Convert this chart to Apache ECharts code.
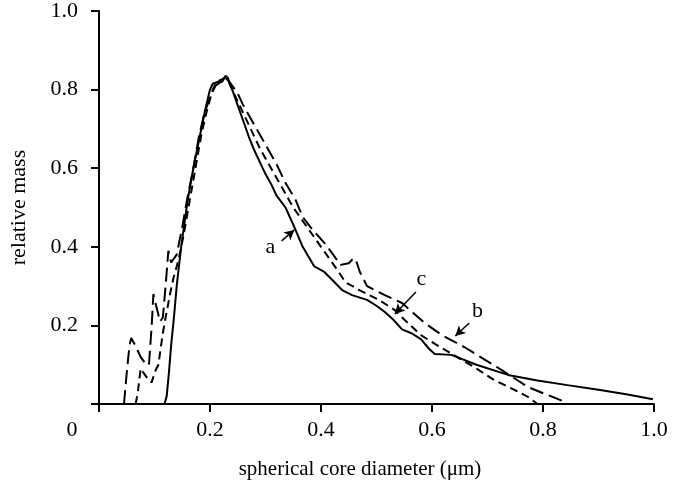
<!DOCTYPE html>
<html>
<head>
<meta charset="utf-8">
<script src="https://cdn.jsdelivr.net/npm/echarts@6/dist/echarts.min.js"></script>
<style>html,body{margin:0;padding:0;background:#fff}#c{width:673px;height:491px}</style>
</head>
<body>
<div id="c"></div>
<script>
// x ticks
const xTicks = [0, 0.2, 0.4, 0.6, 0.8, 1.0];
const yTicks = [0, 0.2, 0.4, 0.6, 0.8, 1.0];

// curve a (solid): [diameter, relative mass]
const curveA = [
  [0.118,0],[0.122,0.02],[0.126,0.08],[0.13,0.15],[0.135,0.22],[0.14,0.3],[0.148,0.4],
  [0.16,0.52],[0.17,0.6],[0.18,0.67],[0.19,0.74],[0.2,0.8],[0.205,0.815],[0.215,0.82],
  [0.222,0.82],[0.228,0.835],[0.232,0.83],[0.24,0.8],[0.25,0.76],[0.26,0.72],[0.27,0.68],
  [0.28,0.645],[0.29,0.615],[0.3,0.585],[0.31,0.56],[0.32,0.53],[0.336,0.5],[0.352,0.45],
  [0.367,0.4],[0.388,0.35],[0.406,0.336],[0.42,0.316],[0.438,0.29],[0.456,0.277],
  [0.483,0.265],[0.5,0.25],[0.515,0.234],[0.53,0.215],[0.546,0.19],[0.563,0.18],
  [0.58,0.165],[0.595,0.14],[0.605,0.127],[0.635,0.125],[0.68,0.1],[0.737,0.074],
  [0.79,0.06],[0.844,0.048],[0.9,0.036],[0.95,0.025],[0.998,0.012]
];

// curve b (long dash)
const curveB = [
  [0.045,0],[0.05,0.08],[0.055,0.15],[0.058,0.168],[0.065,0.15],[0.075,0.12],[0.085,0.1],
  [0.09,0.1],[0.095,0.2],[0.098,0.28],[0.103,0.25],[0.11,0.21],[0.115,0.22],[0.12,0.3],
  [0.125,0.39],[0.13,0.36],[0.14,0.38],[0.15,0.45],[0.16,0.53],[0.17,0.6],[0.18,0.68],
  [0.19,0.74],[0.2,0.78],[0.21,0.81],[0.22,0.82],[0.228,0.83],[0.235,0.82],[0.25,0.79],
  [0.26,0.76],[0.28,0.71],[0.3,0.66],[0.32,0.61],[0.335,0.565],[0.354,0.52],[0.367,0.476],
  [0.381,0.45],[0.406,0.41],[0.42,0.384],[0.435,0.354],[0.45,0.358],[0.456,0.367],
  [0.462,0.37],[0.47,0.336],[0.483,0.3],[0.515,0.277],[0.546,0.257],[0.587,0.206],
  [0.617,0.176],[0.658,0.145],[0.725,0.087],[0.773,0.043],[0.84,0.005]
];

// curve c (short dash)
const curveC = [
  [0.066,0],[0.07,0.03],[0.075,0.09],[0.08,0.08],[0.09,0.06],[0.095,0.055],[0.1,0.08],
  [0.107,0.1],[0.115,0.18],[0.12,0.22],[0.128,0.28],[0.134,0.32],[0.14,0.35],[0.147,0.39],
  [0.155,0.45],[0.165,0.53],[0.175,0.61],[0.185,0.69],[0.195,0.75],[0.205,0.8],
  [0.212,0.82],[0.22,0.825],[0.226,0.83],[0.232,0.825],[0.24,0.8],[0.25,0.77],[0.26,0.74],
  [0.27,0.71],[0.28,0.68],[0.29,0.65],[0.31,0.6],[0.33,0.55],[0.35,0.5],[0.37,0.46],
  [0.39,0.42],[0.41,0.38],[0.43,0.34],[0.444,0.31],[0.469,0.29],[0.504,0.265],
  [0.533,0.239],[0.55,0.215],[0.58,0.175],[0.617,0.143],[0.676,0.094],[0.712,0.061],
  [0.75,0.035],[0.773,0.018],[0.79,0]
];

// annotations: label text, label position, arrow start, arrow tip (data coords)
const labelNames = ['a', 'b', 'c'];
const labelPos = [[0.309, 0.40], [0.682, 0.237], [0.581, 0.318]];
const arrowFrom = [[0.329, 0.415], [0.667, 0.206], [0.571, 0.285]];
const arrowTo = [[0.352, 0.443], [0.642, 0.173], [0.533, 0.229]];

const FONT = 'Liberation Serif';
const chart = echarts.init(document.getElementById('c'));

chart.setOption({
  animation: false,
  backgroundColor: '#fff',
  grid: { left: 93, right: 19, top: 11, bottom: 87, containLabel: false },
  xAxis: {
    type: 'value', min: 0, max: 1, interval: 0.2,
    name: 'spherical core diameter (\u03bcm)',
    nameLocation: 'middle', nameGap: 55,
    nameTextStyle: { fontFamily: FONT, fontSize: 21, color: '#000', padding: [0, 33, 0, 0] },
    axisLine: { lineStyle: { color: '#000', width: 2 } },
    axisTick: { show: true, length: 8, lineStyle: { color: '#000', width: 2 } },
    splitLine: { show: false },
    axisLabel: {
      margin: 15, fontFamily: FONT, fontSize: 22, color: '#000',
      formatter: v => (Math.abs(v) < 1e-9 ? '{z|0}' : v.toFixed(1)),
      rich: { z: { fontFamily: FONT, fontSize: 22, color: '#000', padding: [0, 54, 0, 0] } }
    }
  },
  yAxis: {
    type: 'value', min: 0, max: 1, interval: 0.2,
    name: 'relative mass',
    nameLocation: 'middle', nameGap: 69, nameRotate: 90,
    nameTextStyle: { fontFamily: FONT, fontSize: 22, color: '#000' },
    axisLine: { show: true, lineStyle: { color: '#000', width: 2 } },
    axisTick: { show: true, length: 8, lineStyle: { color: '#000', width: 2 } },
    splitLine: { show: false },
    axisLabel: {
      margin: 21, fontFamily: FONT, fontSize: 22, color: '#000',
      formatter: v => (Math.abs(v) < 1e-9 ? '' : v.toFixed(1))
    }
  },
  series: [
    {
      name: 'a', type: 'line', data: curveA, showSymbol: false, smooth: false,
      lineStyle: { color: '#000', width: 2 },
      markLine: {
        silent: true, symbol: ['none', 'arrow'], symbolSize: [8, 10],
        lineStyle: { color: '#000', width: 1.5, type: 'solid' }, label: { show: false },
        data: arrowFrom.map((f, i) => [{ coord: f }, { coord: arrowTo[i] }])
      },
      markPoint: {
        silent: true, symbol: 'circle', symbolSize: 0,
        label: { show: true, position: 'inside', fontFamily: FONT, fontSize: 22, color: '#000',
                 formatter: p => p.name },
        data: labelNames.map((n, i) => ({ name: n, coord: labelPos[i] }))
      }
    },
    {
      name: 'b', type: 'line', data: curveB, showSymbol: false, smooth: false,
      lineStyle: { color: '#000', width: 2, type: [14, 6] }
    },
    {
      name: 'c', type: 'line', data: curveC, showSymbol: false, smooth: false,
      lineStyle: { color: '#000', width: 2, type: [8, 5] }
    }
  ]
});
</script>
</body>
</html>
